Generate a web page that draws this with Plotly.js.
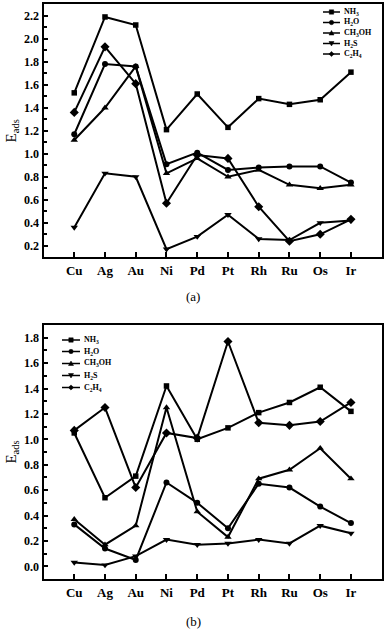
<!DOCTYPE html>
<html><head><meta charset="utf-8">
<script src="https://cdn.plot.ly/plotly-3.0.1.min.js"></script>
<style>html,body{margin:0;padding:0;background:#fff}</style>
</head><body>
<div id="chart" style="width:388px;height:631px"></div>
<script>
// Categories
const metals = ['Cu','Ag','Au','Ni','Pd','Pt','Rh','Ru','Os','Ir'];
const seriesNames = ['NH<sub>3</sub>','H<sub>2</sub>O','CH<sub>3</sub>OH','H<sub>2</sub>S','C<sub>2</sub>H<sub>4</sub>'];
const markerSymbols = ['square','circle','triangle-up','triangle-down','diamond'];

// Panel (a)
const a_NH3   = [1.53, 2.19, 2.12, 1.21, 1.52, 1.23, 1.48, 1.43, 1.47, 1.71];
const a_H2O   = [1.17, 1.78, 1.76, 0.91, 1.01, 0.86, 0.88, 0.89, 0.89, 0.75];
const a_CH3OH = [1.12, 1.40, 1.76, 0.83, 0.96, 0.80, 0.86, 0.73, 0.70, 0.73];
const a_H2S   = [0.36, 0.83, 0.80, 0.17, 0.28, 0.47, 0.26, 0.25, 0.40, 0.42];
const a_C2H4  = [1.36, 1.93, 1.61, 0.57, 0.99, 0.96, 0.54, 0.24, 0.30, 0.43];

// Panel (b)
const b_NH3   = [1.05, 0.54, 0.71, 1.42, 1.00, 1.09, 1.21, 1.29, 1.41, 1.22];
const b_H2O   = [0.33, 0.14, 0.05, 0.66, 0.50, 0.30, 0.65, 0.62, 0.47, 0.34];
const b_CH3OH = [0.37, 0.17, 0.32, 1.25, 0.43, 0.23, 0.69, 0.76, 0.93, 0.69];
const b_H2S   = [0.03, 0.01, 0.08, 0.21, 0.17, 0.18, 0.21, 0.18, 0.32, 0.26];
const b_C2H4  = [1.07, 1.25, 0.62, 1.05, 1.01, 1.77, 1.13, 1.11, 1.14, 1.29];

const yTicksA = [0.2,0.4,0.6,0.8,1.0,1.2,1.4,1.6,1.8,2.0,2.2];
const yTicksB = [0.0,0.2,0.4,0.6,0.8,1.0,1.2,1.4,1.6,1.8];

const panelA = [a_NH3, a_H2O, a_CH3OH, a_H2S, a_C2H4];
const panelB = [b_NH3, b_H2O, b_CH3OH, b_H2S, b_C2H4];
const markerSizes = [5.5, 6, 6.5, 6.5, 7];

const traces = [];
function addPanel(data, xa, ya) {
  data.forEach((vals, i) => {
    traces.push({
      x: metals, y: vals, xaxis: xa, yaxis: ya,
      type: 'scatter', mode: 'lines+markers', name: seriesNames[i],
      showlegend: false, cliponaxis: false,
      line: {color: '#000', width: 2},
      marker: {symbol: markerSymbols[i], size: markerSizes[i], color: '#000'}
    });
  });
}
addPanel(panelA, 'x', 'y');
addPanel(panelB, 'x2', 'y2');

const serif = 'Liberation Serif, Times New Roman, serif';
const W = 388, H = 631;
function py(p) { return 1 - p / H; }
function px(p) { return p / W; }

function xAxis(anchor) {
  return {
    anchor: anchor, domain: [px(43.5), px(381.7)], type: 'category',
    range: [-1, 10], showline: true, mirror: true, linecolor: '#000', linewidth: 2,
    ticks: 'inside', ticklen: 5, tickwidth: 2, tickcolor: '#000',
    showgrid: false, zeroline: false,
    tickfont: {family: serif, size: 13, color: '#000', weight: 'bold'}
  };
}
function yAxis(anchor, dom, range, ticks) {
  return {
    anchor: anchor, domain: dom, range: range,
    tickvals: ticks, ticktext: ticks.map(v => v.toFixed(1)),
    showline: true, mirror: true, linecolor: '#000', linewidth: 2,
    ticks: 'inside', ticklen: 4, tickwidth: 1.5, tickcolor: '#000',
    minor: {dtick: 0.1, ticks: 'inside', ticklen: 3, tickwidth: 1.5, tickcolor: '#000', showgrid: false},
    showgrid: false, zeroline: false,
    tickfont: {family: serif, size: 12, color: '#000', weight: 'bold'},
    title: {text: 'E<sub>ads</sub>', font: {family: serif, size: 15, color: '#000'}, standoff: 4}
  };
}

const annotations = [];
const shapes = [];
// legend marker glyph as a small paper-space shape (pixel offsets around centre cx, cy)
function glyphShape(sym, cx, cy) {
  const r = 2.2;
  const base = {xref: 'paper', yref: 'paper', line: {color: '#000', width: 0.5}, fillcolor: '#000'};
  const P = (dx, dy) => px(cx + dx) + ',' + py(cy + dy);
  if (sym === 'square') return Object.assign(base, {type: 'rect', x0: px(cx - r), x1: px(cx + r), y0: py(cy + r), y1: py(cy - r)});
  if (sym === 'circle') return Object.assign(base, {type: 'circle', x0: px(cx - r), x1: px(cx + r), y0: py(cy + r), y1: py(cy - r)});
  if (sym === 'triangle-up') return Object.assign(base, {type: 'path', path: 'M' + P(-2.5, 2) + 'L' + P(2.5, 2) + 'L' + P(0, -2.5) + 'Z'});
  if (sym === 'triangle-down') return Object.assign(base, {type: 'path', path: 'M' + P(-2.5, -2) + 'L' + P(2.5, -2) + 'L' + P(0, 2.5) + 'Z'});
  return Object.assign(base, {type: 'path', path: 'M' + P(-2.6, 0) + 'L' + P(0, -2.6) + 'L' + P(2.6, 0) + 'L' + P(0, 2.6) + 'Z'});
}
function addLegend(x0, x1, ys) {
  seriesNames.forEach((n, i) => {
    shapes.push({type: 'line', xref: 'paper', yref: 'paper',
      x0: px(x0), x1: px(x1), y0: py(ys[i]), y1: py(ys[i]),
      line: {color: '#000', width: 1.5}});
    shapes.push(glyphShape(markerSymbols[i], (x0 + x1) / 2, ys[i]));
    annotations.push({
      xref: 'paper', yref: 'paper', x: px(x1 + 1.5), y: py(ys[i]),
      xanchor: 'left', yanchor: 'middle', showarrow: false,
      text: n,
      font: {family: serif, size: 8, color: '#000', weight: 'bold'}
    });
  });
}
addLegend(323, 340, [12, 22.5, 33, 43.5, 54]);
addLegend(62, 80, [340, 351.5, 363.5, 375.5, 387.5]);

annotations.push({xref:'paper', yref:'paper', x: px(193), y: py(296), showarrow:false,
  xanchor:'center', yanchor:'middle', text:'(a)', font:{family: serif, size: 13, color:'#000'}});
annotations.push({xref:'paper', yref:'paper', x: px(193), y: py(621), showarrow:false,
  xanchor:'center', yanchor:'middle', text:'(b)', font:{family: serif, size: 13, color:'#000'}});

const layout = {
  width: W, height: H, margin: {l: 0, r: 0, t: 0, b: 0},
  paper_bgcolor: '#fff', plot_bgcolor: '#fff', showlegend: false,
  xaxis: xAxis('y'),
  yaxis: yAxis('x', [py(257.3), py(4.3)], [0.1, 2.3], yTicksA),
  xaxis2: xAxis('y2'),
  yaxis2: yAxis('x2', [py(579), py(325)], [-0.1, 1.9], yTicksB),
  annotations: annotations,
  shapes: shapes
};

Plotly.newPlot('chart', traces, layout, {displayModeBar: false});
</script>
</body></html>
